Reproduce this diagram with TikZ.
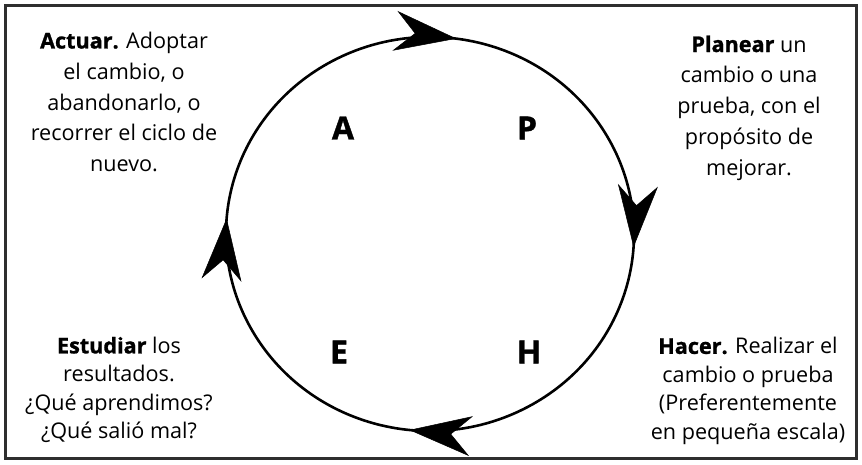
\documentclass[tikz,border=0pt]{standalone}
\usepackage{fontspec}
\setmainfont{Open Sans}[BoldFeatures={FakeBold=1.2}]
\usetikzlibrary{arrows.meta,decorations.markings}
\definecolor{framegray}{HTML}{2E2E2E}
\tikzset{
  frame/.style={draw=framegray, line width=3pt},
  cycle/.style={draw=black, line width=2.6pt},
  bigtip/.tip={Stealth[length=62pt,width=40pt,inset=20pt,line width=0.5pt]},
  desc/.style={align=center, inner sep=0pt, font=\fontsize{21.6pt}{30.8pt}\selectfont},
  descb/.style={align=center, inner sep=0pt, font=\fontsize{21.6pt}{28.5pt}\selectfont},
  letter/.style={inner sep=0pt, font=\fontsize{32pt}{32pt}\selectfont\bfseries}
}
\begin{document}
\begin{tikzpicture}[x=1pt,y=1pt]
\useasboundingbox (0,0) rectangle (862,464);
\draw[frame] (5.5,5.5) rectangle (856.5,458.5);
\coordinate (c) at (430,230);
\draw[cycle, postaction=decorate, decoration={markings,
   mark=at position 0.1056 with {\arrow{bigtip}},
   mark=at position 0.345 with {\arrow{bigtip}},
   mark=at position 0.601 with {\arrow{bigtip}},
   mark=at position 0.847 with {\arrow{bigtip}}}]
  (c) ++(120:204 and 197) arc[start angle=120, end angle=-240, x radius=204, y radius=197];
\node[letter] (A) at (343,336) {A};
\node[letter] (P) at (527,336) {P};
\node[letter] (E) at (339,112) {E};
\node[letter] (H) at (529,112) {H};
\node[desc] (act) at (124,362) {\textbf{Actuar.} Adoptar\\el cambio, o\\abandonarlo, o\\recorrer el ciclo de\\nuevo.};
\node[desc] (plan) at (749,356) {\textbf{Planear} un\\cambio o una\\prueba, con el\\propósito de\\mejorar.};
\node[descb] (est) at (119,74) {\textbf{Estudiar} los\\resultados.\\¿Qué aprendimos?\\¿Qué salió mal?};
\node[descb] (hac) at (748,73) {\textbf{Hacer.} Realizar el\\cambio o prueba\\(Preferentemente\\en pequeña escala)};
\end{tikzpicture}
\end{document}
